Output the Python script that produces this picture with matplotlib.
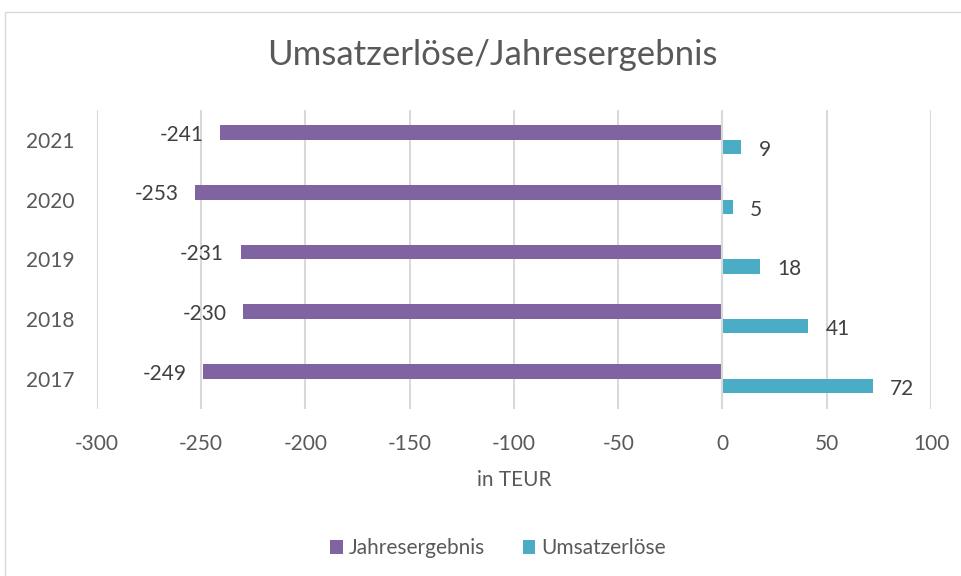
import matplotlib
matplotlib.use("Agg")
import matplotlib.pyplot as plt
from matplotlib.patches import Rectangle
import numpy as np

plt.rcParams['font.family'] = ['Lato', 'DejaVu Sans']

years = ["2017", "2018", "2019", "2020", "2021"]
jahresergebnis = [-249, -230, -231, -253, -241]
umsatzerloese = [72, 41, 18, 5, 9]
xticks = [-300, -250, -200, -150, -100, -50, 0, 50, 100]

PURPLE = "#8064A2"
TEAL = "#4BACC6"
TXT = "#595959"
LBL = "#404040"
GRID = "#D9D9D9"

W, H = 962, 576
fig = plt.figure(figsize=(W / 100, H / 100), dpi=100)
fig.patch.set_facecolor("white")

# chart area border
fig.add_artist(Rectangle((5 / W, 0 - 0.01), 1.05, 1 - 12 / H + 0.01,
                         transform=fig.transFigure, fill=False,
                         edgecolor=GRID, linewidth=1.0))

ax = fig.add_axes([97 / W, 1 - 408.5 / H, (931 - 97) / W, (408.5 - 110) / H])
y = np.arange(len(years))
bh = 0.243
off = 0.121
ax.barh(y + off, jahresergebnis, height=bh, color=PURPLE, zorder=2, label="Jahresergebnis")
ax.barh(y - off, umsatzerloese, height=bh, color=TEAL, zorder=2, label="Umsatzerlöse")

ax.set_xlim(-300, 100)
ax.set_ylim(-0.5, len(years) - 0.5)
ax.set_xticks(xticks)
ax.set_xticklabels([str(t) for t in xticks])
ax.set_yticks(y)
ax.set_yticklabels(years)
ax.tick_params(axis="both", length=0, labelsize=15, labelcolor=TXT)
ax.tick_params(axis="x", pad=18)
ax.tick_params(axis="y", pad=16.5)
for s in ax.spines.values():
    s.set_visible(False)
ax.grid(axis="x", color=GRID, linewidth=1.5, zorder=0)
ax.set_axisbelow(True)
ax.axvline(0, color=GRID, linewidth=1.5, zorder=3)

for yi, v in zip(y, jahresergebnis):
    ax.annotate(str(v), (v, yi + off), xytext=(-12, -1.5), textcoords="offset points",
                ha="right", va="center", fontsize=15, color=LBL)
for yi, v in zip(y, umsatzerloese):
    ax.annotate(str(v), (v, yi - off), xytext=(12.5, -2), textcoords="offset points",
                ha="left", va="center", fontsize=15, color=LBL)

ax.set_xlabel("in TEUR", fontsize=15, color=TXT)
ax.xaxis.set_label_coords(0.5, -(480 - 408.5) / (408.5 - 110))
ax.xaxis.label.set_va("center")

fig.text(492 / W, 1 - 55 / H, "Umsatzerlöse/Jahresergebnis", ha="center", va="center",
         fontsize=25, color=TXT)

fig.legend(loc="center", bbox_to_anchor=(498 / W, 1 - 548 / H), ncol=2, frameon=False,
           fontsize=15, labelcolor=TXT, handlelength=0.6, handleheight=0.65,
           handletextpad=0.3, columnspacing=1.8)

fig.savefig("out.png", dpi=100)
